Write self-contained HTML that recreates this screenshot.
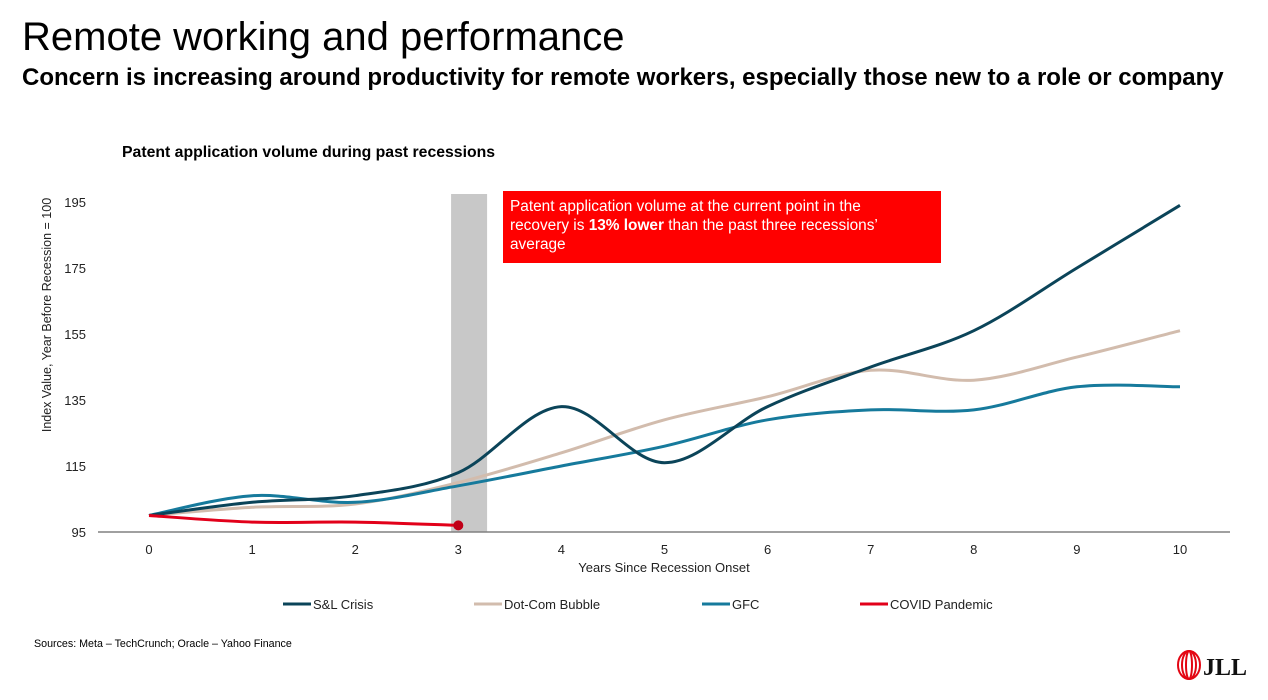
<!DOCTYPE html>
<html><head><meta charset="utf-8"><style>
body{margin:0;width:1268px;height:700px;background:#fff;font-family:"Liberation Sans",sans-serif;overflow:hidden;position:relative}
.t{position:absolute;white-space:nowrap;color:#000}
</style></head><body>
<div class="t" style="left:22px;top:15px;font-size:40px">Remote working and performance</div>
<div class="t" style="left:22px;top:64px;font-size:24px;font-weight:bold">Concern is increasing around productivity for remote workers, especially those new to a role or company</div>
<div class="t" style="left:122px;top:144px;font-size:15.8px;font-weight:bold">Patent application volume during past recessions</div>
<div class="t" style="left:34px;top:638px;font-size:10.7px">Sources: Meta – TechCrunch; Oracle – Yahoo Finance</div>
<svg id="c" width="1268" height="700" style="position:absolute;left:0;top:0" font-family="Liberation Sans, sans-serif"></svg>
<div style="position:absolute;left:503px;top:191px;width:438px;height:72px;background:#ff0000;color:#fff;font-size:15.4px;line-height:19px;padding:6px 0 0 7px;box-sizing:border-box"><div style="width:388px">Patent application volume at the current point in the recovery is <b>13% lower</b> than the past three recessions’ average</div></div>
<div style="position:absolute;left:1176px;top:648px;width:90px;height:34px">
<svg width="90" height="34"><g fill="none" stroke="#e30613" stroke-width="2"><ellipse cx="13" cy="17" rx="11" ry="14"/><ellipse cx="13" cy="17" rx="7" ry="14"/><ellipse cx="13" cy="17" rx="3" ry="14"/></g><text x="27" y="27" font-size="24" font-weight="bold" font-family="Liberation Serif, serif" fill="#111">JLL</text></svg></div>
<script>
const years=[0,1,2,3,4,5,6,7,8,9,10];
const yTicks=[95,115,135,155,175,195];
const slCrisis=[100,104,106,113,133,116,133,145,156,175,194];
const dotCom=[100,102.5,103.5,110,119,129,136,144,141,148,156];
const gfc=[100,106,104,109,115,121,129,132,132,139,139];
const covid=[100,98,98,97];
const NS='http://www.w3.org/2000/svg',svg=document.getElementById('c');
const X=v=>149+v*103.1, Y=v=>532-(v-95)*3.3;
function el(t,a,p){const e=document.createElementNS(NS,t);for(const k in a)e.setAttribute(k,a[k]);(p||svg).appendChild(e);return e;}
const bar=el('rect',{x:X(2.93),y:194,width:36,height:338,fill:'#c8c8c8'});


const ax=el('line',{x1:98,x2:1230,y1:532,y2:532,stroke:'#808080','stroke-width':1.5});


yTicks.forEach(v=>{const t=el('text',{x:86,y:Y(v)+5,'text-anchor':'end','font-size':13,fill:'#222'});t.textContent=v;

});
years.forEach(v=>{const t=el('text',{x:X(v),y:554,'text-anchor':'middle','font-size':13,fill:'#222'});t.textContent=v;

});
const xt=el('text',{x:664,y:572,'text-anchor':'middle','font-size':13,fill:'#222'});xt.textContent='Years Since Recession Onset';


const yt=el('text',{x:0,y:0,transform:'translate(51,315) rotate(-90)','text-anchor':'middle','font-size':12.5,fill:'#222'});yt.textContent='Index Value, Year Before Recession = 100';


function path(vals){const p=vals.map((v,i)=>[X(years[i]),Y(v)]);let d='M'+p[0];
for(let i=0;i<p.length-1;i++){const p0=p[i-1]||p[i],p1=p[i],p2=p[i+1],p3=p[i+2]||p2;
d+=' C'+(p1[0]+(p2[0]-p0[0])/6)+','+(p1[1]+(p2[1]-p0[1])/6)+' '+(p2[0]-(p3[0]-p1[0])/6)+','+(p2[1]-(p3[1]-p1[1])/6)+' '+p2;}return d;}
const series=[[dotCom,'#d2bcad','dot-com-line'],[gfc,'#167a9c','gfc-line'],[slCrisis,'#0b4459','sl-crisis-line'],[covid,'#e2001a','covid-line']];
series.forEach(s=>{const l=el('path',{d:path(s[0]),fill:'none',stroke:s[1],'stroke-width':3});

});
const dot=el('circle',{cx:X(covid.length-1),cy:Y(covid[covid.length-1]),r:5,fill:'#c00018'});


const leg=[['S&L Crisis','#0b4459',283],['Dot-Com Bubble','#d2bcad',474],['GFC','#167a9c',702],['COVID Pandemic','#e2001a',860]];
leg.forEach(g=>{const gg=el('g',{});


el('line',{x1:g[2],x2:g[2]+28,y1:604,y2:604,stroke:g[1],'stroke-width':3},gg);
const t=el('text',{x:g[2]+30,y:609,'font-size':13,fill:'#222'},gg);t.textContent=g[0];});
</script>
</body></html>
